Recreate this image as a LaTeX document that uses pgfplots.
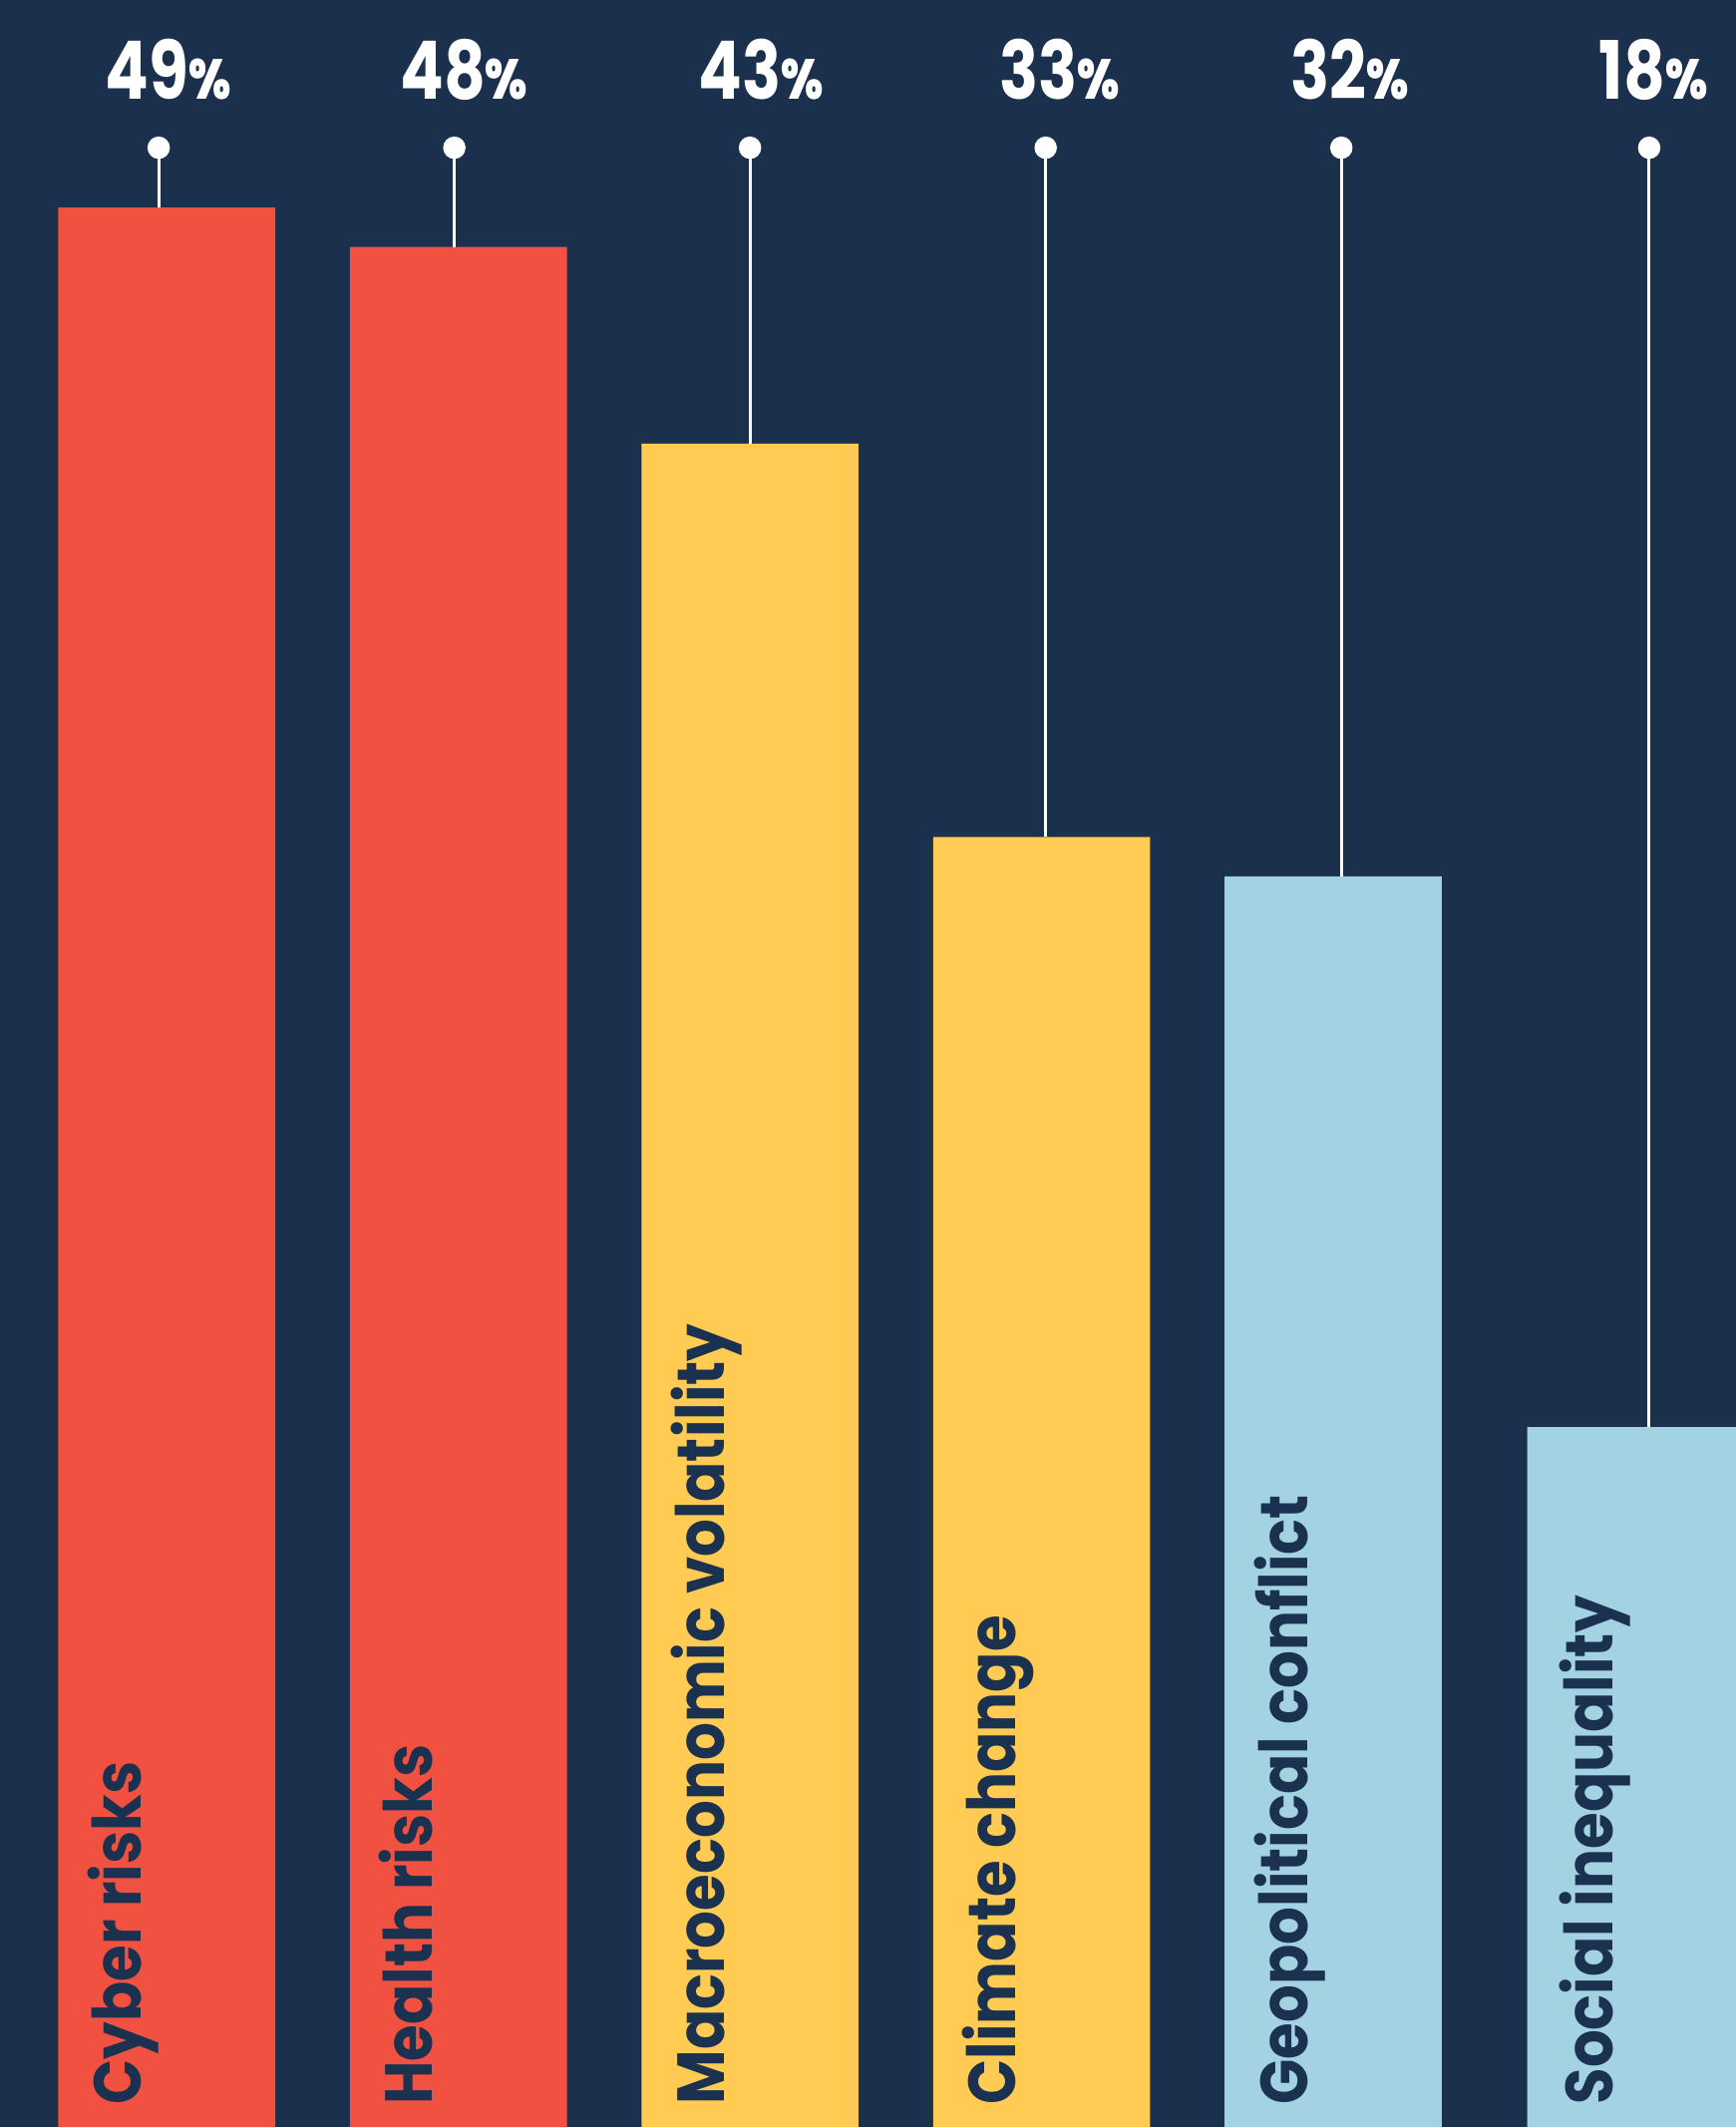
\documentclass[border=0pt]{standalone}
\usepackage{pgfplots}
\pgfplotsset{compat=1.18}
\usepackage{fontspec}
\setmainfont{Poppins}
\newfontfamily\semi{Poppins}[UprightFont={* SemiBold}]
\definecolor{bg}{HTML}{1B304C}
\definecolor{cred}{HTML}{F05140}
\definecolor{cyel}{HTML}{FFCB52}
\definecolor{cblue}{HTML}{A3D3E3}
\definecolor{ink}{HTML}{1B3150}
\newcommand{\pct}[1]{\scalebox{0.8}[1]{\bfseries\fontsize{23}{23}\selectfont #1\semi\fontsize{16}{16}\selectfont\%}}
\newcommand{\lab}[1]{\scalebox{0.89}[1]{\bfseries\fontsize{19}{19}\selectfont #1}}
\begin{document}
\begin{tikzpicture}
\begin{axis}[
  width=17.41cm, height=21.33cm, scale only axis,
  xmin=0, xmax=1280, ymin=0.207, ymax=54.276,
  axis line style={draw=none}, xtick=\empty, ytick=\empty,
  axis background/.style={fill=bg},
  clip=true,
]
\addplot[ybar, bar width=160, bar shift=0pt, fill=cred, draw=none] coordinates {(123,49) (338,48)};
\addplot[ybar, bar width=160, bar shift=0pt, fill=cyel, draw=none] coordinates {(553,43) (768,33)};
\addplot[ybar, bar width=160, bar shift=0pt, fill=cblue, draw=none] coordinates {(983,32) (1206,18)};
% pins
\addplot[white, line width=0.85pt, no marks, unbounded coords=jump] coordinates {
 (117,49) (117,50.52) (117,nan)
 (335,48) (335,50.52) (335,nan)
 (553,43) (553,50.52) (553,nan)
 (771,33) (771,50.52) (771,nan)
 (989,32) (989,50.52) (989,nan)
 (1216,18) (1216,50.52)};
\addplot[only marks, mark=*, mark size=3pt, white, mark options={draw=white, fill=white}] coordinates {
 (117,50.52) (335,50.52) (553,50.52) (771,50.52) (989,50.52) (1216,50.52)};
% value labels
\node[anchor=base, text=white, inner sep=0pt] at (axis cs:124,51.75) {\pct{49}};
\node[anchor=base, text=white, inner sep=0pt] at (axis cs:342,51.75) {\pct{48}};
\node[anchor=base, text=white, inner sep=0pt] at (axis cs:561,51.75) {\pct{43}};
\node[anchor=base, text=white, inner sep=0pt] at (axis cs:781,51.75) {\pct{33}};
\node[anchor=base, text=white, inner sep=0pt] at (axis cs:995,51.75) {\pct{32}};
\node[anchor=base, text=white, inner sep=0pt] at (axis cs:1219,51.75) {\pct{18}};
% bar labels
\node[rotate=90, anchor=base west, text=ink, inner sep=0pt] at (axis cs:104,0.76) {\lab{Cyber risks}};
\node[rotate=90, anchor=base west, text=ink, inner sep=0pt] at (axis cs:319,0.76) {\lab{Health risks}};
\node[rotate=90, anchor=base west, text=ink, inner sep=0pt] at (axis cs:534,0.76) {\lab{Macroeconomic volatility}};
\node[rotate=90, anchor=base west, text=ink, inner sep=0pt] at (axis cs:749,0.76) {\lab{Climate change}};
\node[rotate=90, anchor=base west, text=ink, inner sep=0pt] at (axis cs:964,0.76) {\lab{Geopolitical conflict}};
\node[rotate=90, anchor=base west, text=ink, inner sep=0pt] at (axis cs:1189,0.76) {\lab{Social inequality}};
\end{axis}
\end{tikzpicture}
\end{document}
